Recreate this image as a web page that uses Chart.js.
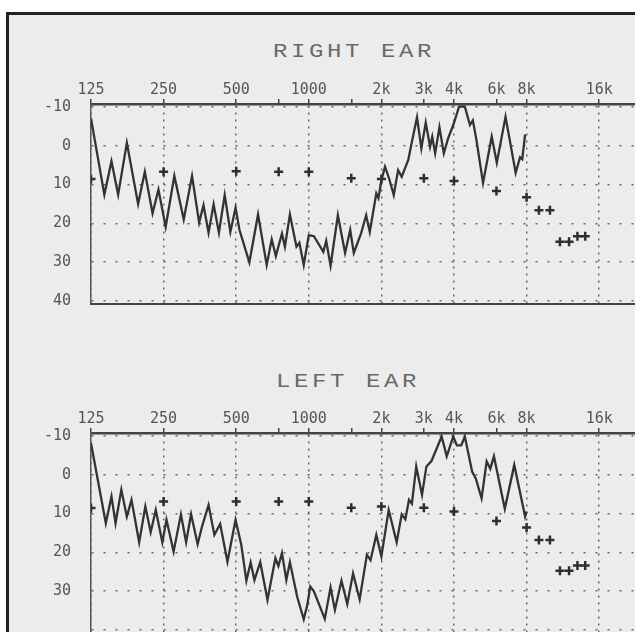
<!DOCTYPE html>
<html><head><meta charset="utf-8">
<script src="https://cdn.jsdelivr.net/npm/chart.js@4.4.0/dist/chart.umd.min.js"></script>
<style>
html,body{margin:0;padding:0;background:#fff;overflow:hidden;width:635px;height:632px;position:relative;}
#frame{position:absolute;left:6px;top:12px;width:700px;height:700px;border:3px solid #222;background:#ececec;box-sizing:border-box;}
canvas{position:absolute;left:0;}
.ttl{position:absolute;font-family:"Liberation Mono",monospace;font-size:20px;line-height:20px;letter-spacing:3px;color:#6a6a6a;transform:scaleX(1.2);transform-origin:center;white-space:nowrap;text-align:center;width:300px;}
</style></head>
<body>
<div id="frame"></div>
<div class="ttl" style="left:204px;top:42px;">RIGHT EAR</div>
<div class="ttl" style="left:198px;top:372px;">LEFT EAR</div>
<canvas id="cR" width="700" height="316" style="top:0px;"></canvas>
<canvas id="cL" width="700" height="316" style="top:329px;"></canvas>
<script>
const rightFreq=[125,142,152,162,176,196,209,225,238,255,277,303,328,351,366,384,403,424,448,473,497,516,567,616,669,702,730,774,796,835,889,914,953,1000,1050,1149,1181,1231,1320,1414,1485,1537,1647,1729,1790,1905,1945,2000,2071,2151,2250,2346,2428,2585,2658,2810,2929,3054,3183,3250,3341,3482,3630,3784,3972,4198,4437,4658,4789,4958,5278,5735,6020,6543,7209,7515,7673,7889];
const rightLevel=[-7,12.6,4,12.6,-0.7,15,6.7,17.4,11.3,20.9,7.8,19,7.8,19.8,15.3,22.4,15.1,22.4,12.7,22.2,16,21.7,30,17.7,30.7,24.1,28.4,22.6,26,17.7,26,25,30.7,23,23.3,27.3,24.5,30.9,17.9,27.6,21.7,27.6,22.6,17.9,22.2,12.3,13.5,8.9,5.4,8.4,12.7,6.3,8,3.7,-0.1,-7.3,0.7,-5.9,0.3,-2.3,2,-4.7,2,-1.9,-5.3,-10,-10,-5.3,-6.5,-1.4,9.6,-2.3,4.4,-7.4,7,3,3.5,-2.9];
const leftFreq=[125,144,152,158,167,176,184,198,210,221,232,247,257,275,295,310,325,346,361,384,406,429,460,497,525,551,574,595,629,674,727,748,774,807,835,895,953,986,1014,1050,1165,1231,1283,1366,1444,1526,1625,1741,1803,1905,2000,2144,2314,2428,2514,2603,2676,2789,2948,3074,3226,3555,3732,3972,4112,4287,4437,4756,4924,5205,5464,5657,5857,6498,7111,7889,8000];
const leftLevel=[-8.1,12.5,5.6,12.5,3.9,10.8,6.5,17.4,8.2,14.8,9.1,17.4,11.6,19.8,10.2,17.4,10.2,17.9,13.3,7.8,15.5,12.7,22.4,11.6,18.1,27.3,22.6,27.1,22.5,32.2,21.5,23.5,20.2,27.1,22.5,31.4,37.2,33.5,28.8,30,37.1,29,34.8,27.3,33.3,25.4,32.1,20.6,22,15.5,21,9.1,17.4,10.2,11.5,6.5,7.5,-2.1,5.2,-2.1,-3.5,-9.8,-4.7,-9.8,-7.5,-7.5,-9.8,-0.8,1,6.1,-3.4,-1.5,-4.7,8.8,-2.5,10.8,9.5];
const refFreq=[125,250,500,750,1000,1500,2000,3000,4000,6000,8000,9000,10000,11000,12000,13000,14000];
const rightRef=[8.6,6.7,6.6,6.7,6.7,8.4,8.6,8.4,9.1,11.7,13.3,16.6,16.6,24.7,24.7,23.3,23.3];
const leftRef=[8.6,6.9,6.9,6.9,6.9,8.5,8.2,8.5,9.5,11.9,13.6,16.8,16.8,24.7,24.7,23.4,23.4];
const xTickValues=[125,250,500,750,1000,1500,2000,3000,4000,6000,8000,16000];
const xTickLabels=['125','250','500','','1000','','2k','3k','4k','6k','8k','16k'];
const gridFreqs=[125,250,500,1000,2000,4000,8000,16000];
const yTickValues=[-10,0,10,20,30,40];

function pts(xs,ys){return xs.map((x,i)=>({x:x,y:ys[i]}));}
const tickFont={family:'DejaVu Sans Mono',size:15};

function build(id,freq,level,ref,isTop){
  return new Chart(document.getElementById(id),{
    type:'line',
    data:{datasets:[
      {data:pts(freq,level),borderColor:'#333',borderWidth:2.3,pointRadius:0,tension:0,fill:false},
      {data:pts(refFreq,ref),showLine:false,pointStyle:'cross',pointRadius:4.5,pointBorderWidth:2.5,pointBorderColor:'#2e2e2e',borderColor:'#2e2e2e',backgroundColor:'#2e2e2e'}
    ]},
    options:{
      responsive:false,animation:false,devicePixelRatio:1,
      layout:{padding:{left:0,right:20,top:0,bottom:12.5}},
      plugins:{legend:{display:false},tooltip:{enabled:false},title:{display:false}},
      scales:{
        x:{type:'logarithmic',position:'top',min:125,max:34610,
          afterBuildTicks:s=>{s.ticks=xTickValues.map(v=>({value:v}));},
          afterFit:s=>{s.height=104;},
          ticks:{autoSkip:false,maxRotation:0,minRotation:0,padding:0,color:'#555',font:tickFont,callback:(v,i)=>xTickLabels[i]},
          grid:{color:c=>(c.tick&&gridFreqs.includes(c.tick.value))?'#666':'rgba(0,0,0,0)',lineWidth:1.5,tickColor:'#444',tickLength:5,tickWidth:1.5,drawTicks:true},
          border:{display:true,color:'#444',width:2.5,dash:[2,5]}
        },
        y:{type:'linear',position:'left',reverse:true,min:-10.7,max:40.6,
          afterBuildTicks:s=>{s.ticks=yTickValues.map(v=>({value:v}));},
          afterFit:s=>{s.width=91;},
          ticks:{padding:0,color:'#555',font:tickFont,callback:v=>(isTop||v<40)?String(v):''},
          grid:{color:'#666',lineWidth:1.6,drawTicks:true,tickLength:20,tickColor:'rgba(0,0,0,0)'},
          border:{display:true,color:'#555',width:1.5,dash:[2,10]}
        },
        xb:{type:'linear',position:'bottom',display:isTop,min:0,max:1,
          afterFit:s=>{s.height=0;},
          ticks:{display:false},grid:{display:false,drawTicks:false},
          border:{display:true,color:'#444',width:2}}
      }
    }
  });
}
build('cR',rightFreq,rightLevel,rightRef,true);
build('cL',leftFreq,leftLevel,leftRef,false);
</script>
</body></html>
